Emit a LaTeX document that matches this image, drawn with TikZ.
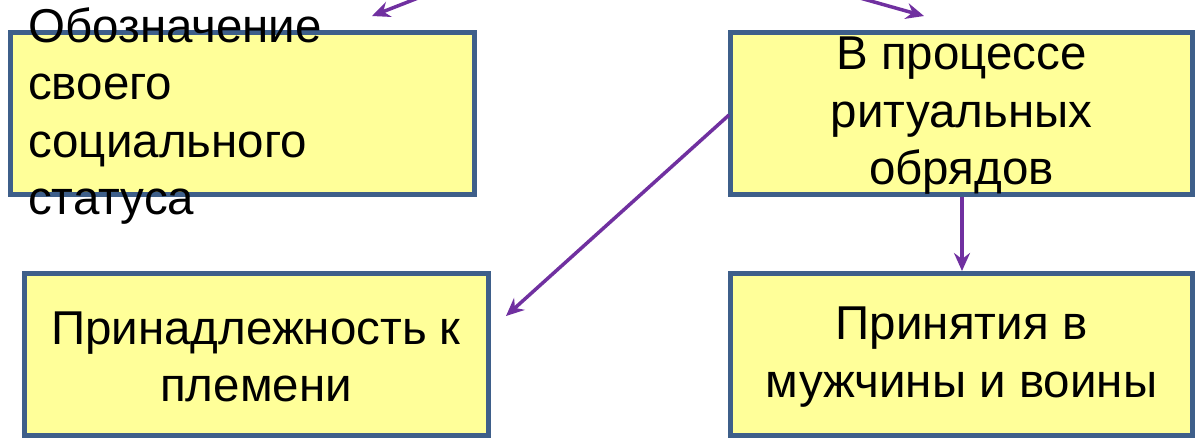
\documentclass[tikz,border=0pt]{standalone}
\usepackage{fontspec}
\setmainfont{Liberation Sans}
\usetikzlibrary{arrows.meta}
\definecolor{boxfill}{HTML}{FFFF99}
\definecolor{boxline}{HTML}{3E5F8A}
\definecolor{arrowc}{HTML}{7030A0}
\tikzset{
  card/.style={draw=boxline, fill=boxfill, line width=5pt},
  label/.style={font=\fontsize{47.5}{57.5}\selectfont, inner sep=0pt},
  link/.style={draw=arrowc, line width=3.5pt, -{Stealth[length=18pt,width=16pt,inset=6pt]}},
}
\begin{document}
\begin{tikzpicture}[x=1pt,y=-1pt]
\clip (0,0) rectangle (1199,440);
\fill[white] (0,0) rectangle (1199,440);
% boxes
\draw[card] (10.5,32.5) rectangle (474.5,194.5);
\draw[card] (730.5,32.5) rectangle (1192.5,194.5);
\draw[card] (24.5,273.5) rectangle (488.5,435.5);
\draw[card] (730.5,273.5) rectangle (1192.5,435.5);
\coordinate (Bw) at (729,115);
\coordinate (Bs) at (962,197);
\coordinate (Dn) at (962,271);
% texts
\node[label, align=left, anchor=west] (ta) at (28,116) {Обозначение\\своего\\социального\\статуса};
\node[label, align=center] (tb) at (961.5,116) {В процессе\\ритуальных\\обрядов};
\node[label, align=center] (tc) at (256,357) {Принадлежность к\\племени};
\node[label, align=center] (td) at (961.5,357) {Принятия в\\мужчины и воины};
% arrows
\coordinate (s1) at (418,-2);
\coordinate (e1) at (372,16);
\coordinate (s2) at (860,-2);
\coordinate (e2) at (924,16);
\coordinate (e3) at (506,316);
\draw[link] (s1) -- (e1);
\draw[link] (s2) -- (e2);
\draw[link] (Bw) -- (e3);
\draw[link] (Bs) -- (Dn);
\end{tikzpicture}
\end{document}
